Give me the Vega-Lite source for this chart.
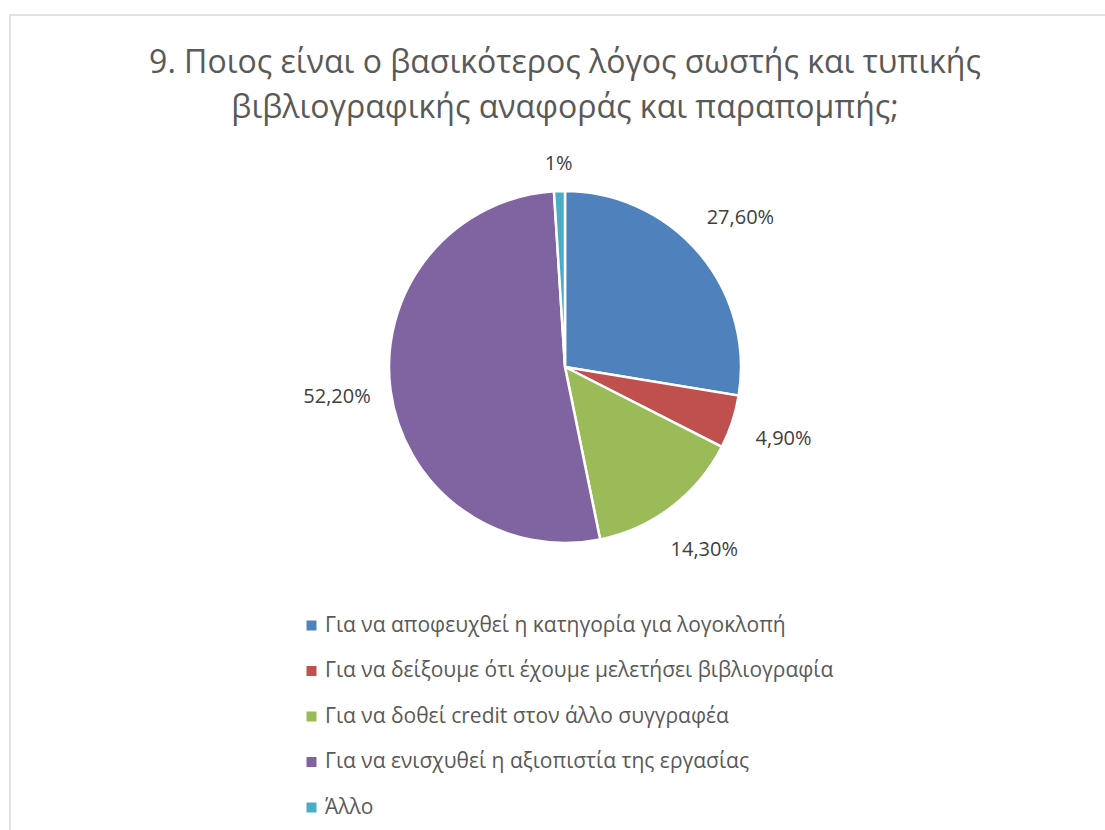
{
  "$schema": "https://vega.github.io/schema/vega-lite/v6.json",
  "width": 1100,
  "height": 822,
  "autosize": {"type": "none"},
  "padding": {"left": 10, "top": 15, "right": 0, "bottom": 0},
  "background": "white",
  "view": {"stroke": "#d9d9d9", "strokeWidth": 1.5, "fill": "white"},
  "title": {
    "text": ["9. Ποιος είναι ο βασικότερος λόγος σωστής και τυπικής", "βιβλιογραφικής αναφοράς και παραπομπής;"],
    "orient": "top",
    "anchor": "middle",
    "baseline": "bottom",
    "offset": -142,
    "dx": 5,
    "font": "Open Sans",
    "fontSize": 32,
    "fontWeight": "normal",
    "lineHeight": 45,
    "color": "#595959"
  },
  "data": {
    "values": [
      {"cat": "Για να αποφευχθεί η κατηγορία για λογοκλοπή", "pct": 27.6, "label": "27,60%", "ord": 1},
      {"cat": "Για να δείξουμε ότι έχουμε μελετήσει βιβλιογραφία", "pct": 4.9, "label": "4,90%", "ord": 2},
      {"cat": "Για να δοθεί credit στον άλλο συγγραφέα", "pct": 14.3, "label": "14,30%", "ord": 3},
      {"cat": "Για να ενισχυθεί η αξιοπιστία της εργασίας", "pct": 52.2, "label": "52,20%", "ord": 4},
      {"cat": "Άλλο", "pct": 1, "label": "1%", "ord": 5}
    ]
  },
  "encoding": {
    "theta": {"field": "pct", "type": "quantitative", "stack": true},
    "order": {"field": "ord", "type": "quantitative"},
    "color": {
      "field": "cat",
      "type": "nominal",
      "sort": {"field": "ord"},
      "scale": {
        "domain": [
          "Για να αποφευχθεί η κατηγορία για λογοκλοπή",
          "Για να δείξουμε ότι έχουμε μελετήσει βιβλιογραφία",
          "Για να δοθεί credit στον άλλο συγγραφέα",
          "Για να ενισχυθεί η αξιοπιστία της εργασίας",
          "Άλλο"
        ],
        "range": ["#4F81BD", "#C0504D", "#9BBB59", "#8064A2", "#4BACC6"]
      },
      "legend": {
        "title": null,
        "orient": "none",
        "legendX": 291,
        "legendY": 600,
        "direction": "vertical",
        "symbolType": "square",
        "symbolSize": 100,
        "symbolStrokeWidth": 0,
        "labelFont": "Open Sans",
        "labelFontSize": 21,
        "labelColor": "#595959",
        "labelLimit": 0,
        "labelOffset": 3,
        "rowPadding": 23.5
      }
    }
  },
  "layer": [
    {
      "mark": {"type": "arc", "outerRadius": 176, "stroke": "white", "strokeWidth": 2.5, "xOffset": 5, "yOffset": -59}
    },
    {
      "mark": {
        "type": "text",
        "radius": {"expr": "datum.pct < 2 ? 203 : 230"},
        "xOffset": 5,
        "yOffset": -59,
        "font": "Open Sans",
        "fontSize": 20,
        "fill": "#404040",
        "align": "center",
        "baseline": "middle"
      },
      "encoding": {
        "text": {"field": "label", "type": "nominal"},
        "color": {"value": "#404040"}
      }
    }
  ]
}
